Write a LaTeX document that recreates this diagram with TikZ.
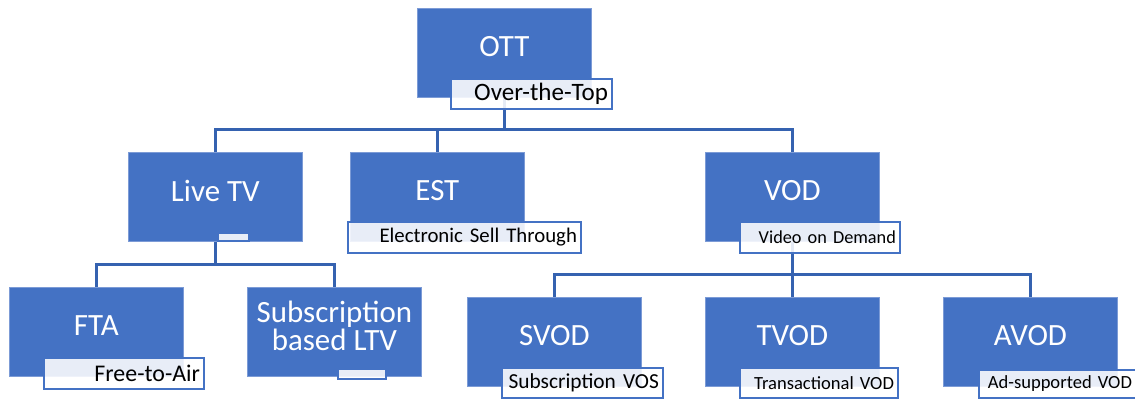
\documentclass[tikz,border=0pt]{standalone}
\usepackage{fontspec}
\setmainfont{Carlito}
\definecolor{ottblue}{HTML}{4472C4}
\definecolor{ottedge}{HTML}{7C9BD6}
\definecolor{linkblue}{HTML}{3562B0}

\begin{document}
\begin{tikzpicture}[x=0.025cm, y=-0.025cm,
    cat/.style={fill=ottblue, draw=ottedge, line width=0.5pt, anchor=north west,
        minimum width=4.35cm, minimum height=2.225cm, inner sep=0pt},
    cattext/.style={text=white, font=\fontsize{22}{20.5}\selectfont, align=center, yshift=0.15cm},
    tag/.style={draw=ottblue, line width=1.3pt, fill=white, fill opacity=0.88, text opacity=1,
        anchor=north west, inner xsep=0.1cm, inner ysep=0pt, align=right},
    link/.style={draw=linkblue, line width=1.9pt}]
    \useasboundingbox (0,0) rectangle (1135,399);

    % category boxes
    \node[cat, label={[cattext]center:OTT}] (ott) at (417,8) {};
    \node[cat, label={[cattext]center:Live TV}] (live) at (128,152) {};
    \node[cat, label={[cattext]center:EST}] (est) at (350,152) {};
    \node[cat, label={[cattext]center:VOD}] (vod) at (705,152) {};
    \node[cat, label={[cattext]center:FTA}] (fta) at (9,287) {};
    \node[cat, label={[cattext]center:Subscription\\based LTV}] (sub) at (247,287) {};
    \node[cat, label={[cattext]center:SVOD}] (svod) at (467,297) {};
    \node[cat, label={[cattext]center:TVOD}] (tvod) at (705,297) {};
    \node[cat, label={[cattext]center:AVOD}] (avod) at (943,297) {};

    % connectors
    \draw[link] (ott.south) -- ++(0,32) -| (live.north);
    \draw[link] (ott.south) -- ++(0,32) -| (est.north);
    \draw[link] (ott.south) -- ++(0,32) -| (vod.north);
    \draw[link] (live.south) -- ++(0,23) -| (fta.north);
    \draw[link] (live.south) -- ++(0,23) -| (sub.north);
    \draw[link] (vod.south) -- ++(0,33) -| (svod.north);
    \draw[link] (vod.south) -- ++(0,33) -| (tvod.north);
    \draw[link] (vod.south) -- ++(0,33) -| (avod.north);

    % sub-labels
    \node[tag, minimum width=4.025cm, minimum height=0.75cm, text width=3.825cm,
        font=\fontsize{17.8}{20}\selectfont] (ott-tag) at (450,78) {Over-the-Top};
    \node[tag, minimum width=0.775cm, minimum height=0.2cm] (live-tag) at (217,232) {};
    \node[tag, minimum width=5.825cm, minimum height=0.775cm, text width=5.625cm,
        font=\fontsize{14.8}{17}\selectfont] (est-tag) at (347,221) {Electronic Sell Through};
    \node[tag, minimum width=4cm, minimum height=0.775cm, text width=3.8cm,
        font=\fontsize{13}{16}\selectfont] (vod-tag) at (739,221) {Video on Demand};
    \node[tag, minimum width=4cm, minimum height=0.775cm, text width=3.8cm,
        font=\fontsize{17}{19}\selectfont] (fta-tag) at (43,357) {Free-to-Air};
    \node[tag, minimum width=1.2cm, minimum height=0.25cm] (sub-tag) at (337,368) {};
    \node[tag, minimum width=4.025cm, minimum height=0.75cm, text width=3.825cm,
        font=\fontsize{15.2}{17}\selectfont] (svod-tag) at (501,367) {Subscription VOS};
    \node[tag, minimum width=3.95cm, minimum height=0.75cm, text width=3.75cm,
        font=\fontsize{13.2}{15}\selectfont] (tvod-tag) at (739,367) {Transactional VOD};
    \node[tag, minimum width=3.925cm, minimum height=0.7cm, text width=3.725cm,
        font=\fontsize{13.2}{15}\selectfont] (avod-tag) at (978,369) {Ad-supported VOD};
\end{tikzpicture}
\end{document}
